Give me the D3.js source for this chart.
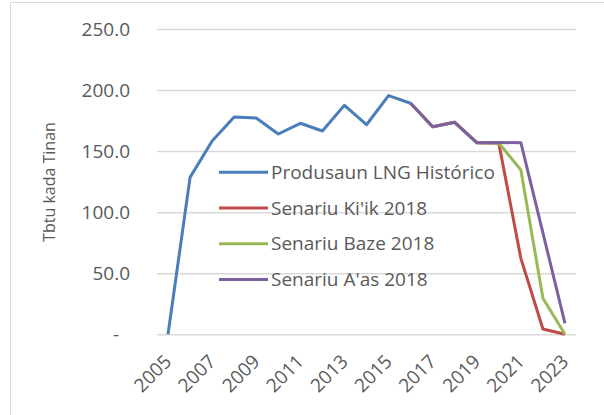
<!DOCTYPE html>
<html>
<head>
<meta charset="utf-8">
<script src="https://cdn.jsdelivr.net/npm/d3@7"></script>
<style>
  body { margin: 0; background: #fff; }
  text { font-family: "Open Sans", sans-serif; fill: #595959; }
</style>
</head>
<body>
<svg id="chart" width="604" height="415"></svg>
<script>
// data
let years = d3.range(2005, 2024);
let yTicks = [0, 50, 100, 150, 200, 250];

let histYears = [2005, 2006, 2007, 2008, 2009, 2010, 2011, 2012, 2013, 2014, 2015, 2016];
let histValues = [0, 128.5, 158.3, 178, 177.1, 164, 172.8, 166.5, 187.5, 171.6, 195.5, 189.2];

let scenYears = [2016, 2017, 2018, 2019, 2020, 2021, 2022, 2023];
let lowValues = [189.2, 170, 173.6, 156.9, 156.5, 62.2, 4.3, 0];
let baseValues = [189.2, 170, 173.6, 156.9, 156.7, 134.5, 29.5, 0];
let highValues = [189.2, 170, 173.6, 156.9, 157, 156.9, 83, 9];

let seriesNames = ["Produsaun LNG Histórico", "Senariu Ki'ik 2018", "Senariu Baze 2018", "Senariu A'as 2018"];
let seriesColors = ["#4a7ebb", "#be4b48", "#98b954", "#7d60a0"];

let width = 604;
let height = 415;

let svg = d3.select("#chart");

// chart border
svg.append("rect")
    .attr("x", 10.5).attr("y", 2.5)
    .attr("width", 700).attr("height", 500)
    .attr("fill", "none")
    .attr("stroke", "#d9d9d9");

let xScale = d3.scalePoint()
    .domain(years)
    .range([157, 576])
    .padding(0.5);

let yScale = d3.scaleLinear()
    .domain([0, 250])
    .range([334.3, 29]);

// gridlines
let yAxis = d3.axisLeft(yScale)
    .tickValues(yTicks)
    .tickSize(-(576 - 157))
    .tickFormat(d => d === 0 ? "-" : d.toFixed(1));

let gy = svg.append("g")
    .attr("transform", "translate(157,0)")
    .call(yAxis);
gy.select(".domain").remove();
gy.selectAll(".tick line").attr("stroke", "#d9d9d9").attr("stroke-width", 1.5);
gy.selectAll(".tick text")
    .attr("x", -27)
    .attr("dx", d => d === 0 ? -11 : 0)
    .style("font-size", "19px")
    .style("font-family", "'Open Sans', sans-serif")
    .attr("fill", "#595959");

// x labels
let xLabels = years.filter(y => y % 2 === 1);
svg.append("g").selectAll("text")
    .data(xLabels)
    .enter()
    .append("text")
    .attr("transform", d => `translate(${xScale(d)},358) rotate(-45)`)
    .attr("text-anchor", "end")
    .attr("dy", "0.35em")
    .style("font-size", "19px")
    .text(d => d);

// axis title
svg.append("text")
    .attr("transform", "translate(55,182) rotate(-90)")
    .attr("text-anchor", "middle")
    .style("font-size", "16px")
    .text("Tbtu kada Tinan");

let line = d3.line()
    .x(d => xScale(d[0]))
    .y(d => yScale(d[1]));

let lineData = [
    d3.zip(histYears, histValues),
    d3.zip(scenYears, lowValues),
    d3.zip(scenYears, baseValues),
    d3.zip(scenYears, highValues)
];

svg.append("g").selectAll("path")
    .data(lineData)
    .enter()
    .append("path")
    .attr("d", line)
    .attr("fill", "none")
    .attr("stroke", (d, i) => seriesColors[i])
    .attr("stroke-width", 3)
    .attr("stroke-linejoin", "round");

// legend
let legend = svg.append("g");
seriesNames.forEach((name, i) => {
    let y = 172.3 + i * 35.7;
    legend.append("line")
        .attr("x1", 219).attr("x2", 268)
        .attr("y1", y).attr("y2", y)
        .attr("stroke", seriesColors[i])
        .attr("stroke-width", 3);
    legend.append("text")
        .attr("x", 271)
        .attr("y", y)
        .attr("dy", "0.35em")
        .style("font-size", "19px")
        .text(name);
});
</script>
</body>
</html>
